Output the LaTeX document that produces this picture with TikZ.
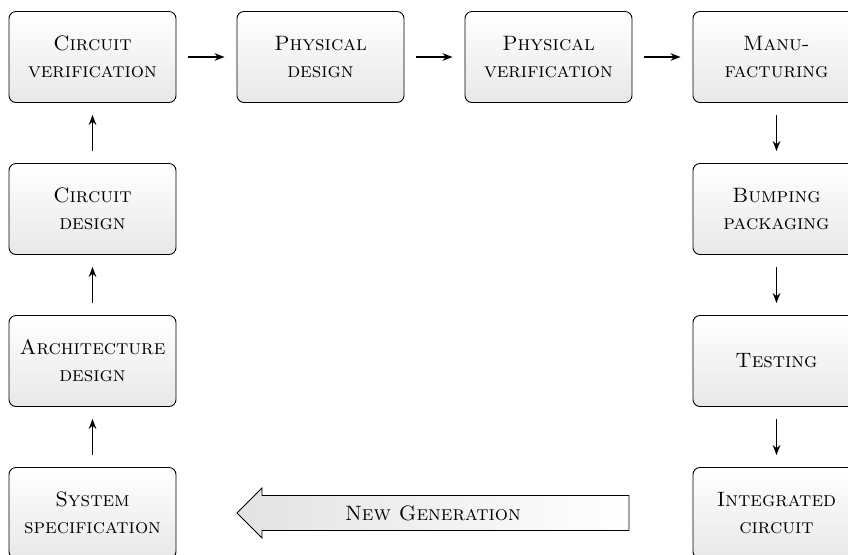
\documentclass[tikz,border=0pt]{standalone}
\usetikzlibrary{arrows.meta,shapes.arrows}
\begin{document}
\begin{tikzpicture}[x=1pt,y=1pt,
  box/.style={draw, line width=0.45pt, rounded corners=3.5pt, top color=white, bottom color=gray!18,
    minimum width=83.5pt, minimum height=45.5pt, inner sep=0pt, align=center,
    font=\fontsize{10.4}{13.5}\selectfont\scshape},
  flow/.style={-{Stealth[length=5pt,width=3.8pt]}, line width=0.8pt, shorten >=6pt, shorten <=6pt},
  bigarrow/.style={draw, line width=0.45pt, left color=gray!22, right color=white}]
\useasboundingbox (0,0) rectangle (424,-277);
% column 1
\node[box] (cv) at (46.25,-28.5) {Circuit\\verification};
\node[box] (cd) at (46.25,-104.5) {Circuit\\design};
\node[box] (ad) at (46.25,-180.5) {Architecture\\design};
\node[box] (ss) at (46.25,-256.5) {System\\specification};
% top row
\node[box] (pd) at (160.25,-28.5) {Physical\\design};
\node[box] (pv) at (274.25,-28.5) {Physical\\verification};
\node[box] (mf) at (388.25,-28.5) {Manu-\\facturing};
% right column
\node[box] (bp) at (388.25,-104.5) {Bumping\\packaging};
\node[box] (ts) at (388.25,-180.5) {Testing};
\node[box] (ic) at (388.25,-256.5) {Integrated\\circuit};
% connectors
\draw[flow] (ss) -- (ad);
\draw[flow] (ad) -- (cd);
\draw[flow] (cd) -- (cv);
\draw[flow] (cv) -- (pd);
\draw[flow] (pd) -- (pv);
\draw[flow] (pv) -- (mf);
\draw[flow] (mf) -- (bp);
\draw[flow] (bp) -- (ts);
\draw[flow] (ts) -- (ic);
% new generation arrow
\path[bigarrow] (118.5,-256.5) -- (131,-244) -- (131,-247.75) -- (314.5,-247.75)
  -- (314.5,-265.25) -- (131,-265.25) -- (131,-269) -- cycle;
\node[font=\fontsize{10.4}{13.5}\selectfont\scshape] (ng) at (216.5,-256.5) {New Generation};
\end{tikzpicture}
\end{document}
